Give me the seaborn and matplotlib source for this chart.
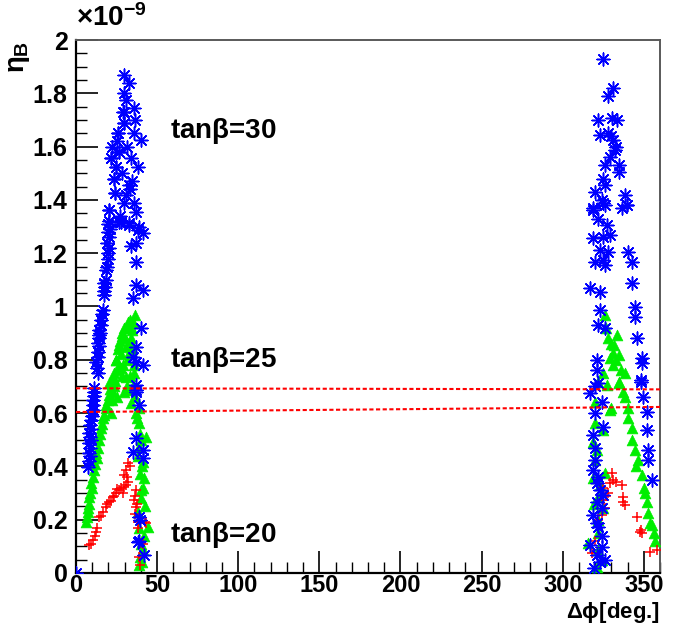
"""
eta_B vs delta phi para tan(beta) = 20, 25, 30.
"""

import matplotlib
matplotlib.use("Agg")
import matplotlib.pyplot as plt
import seaborn as sns
import pandas as pd

# tan(beta)=30 (azul), eta_B em unidades de 1e-9
phi_30 = [0, 7.4, 8, 8.6, 8, 8.6, 8, 9.2, 8.6, 8, 9.2, 8.6, 9.2, 9.8, 10.5, 10.5, 10.5, 11, 11, 11.1,
          12.3, 13.6, 12.9, 13.6, 13.6, 14.2, 13.6, 14.2, 14.2, 14.8, 14.2, 15.4, 15.4, 16, 16.6,
          17.3, 17.3, 17.9, 17.3, 18.5, 18.5, 19.1, 19.7, 19.7, 20.3, 19.1, 20.3, 19.7, 20.9, 19.7,
          20.3, 20.3, 21.6, 23.4, 24, 24.7, 25.9, 26.5, 27.7, 29.6, 29.6, 30.8, 32.7, 29, 29.6, 35.8,
          29.6, 36.4, 29.6, 25.9, 35.8, 40, 26.5, 21.6, 33.9, 24.7, 38.2, 23.4, 32.7, 24, 30.8, 29.6,
          35.8, 37, 20.3, 26.5, 32.7, 38.8, 27.7, 32.7, 38.2, 41.3, 37, 33.9, 37, 37, 41.3, 35.1,
          40, 37, 35.1, 37, 41.3, 37, 37, 37, 38.8, 37, 35.1, 41.3, 41.3, 38.8, 39.4, 38.2, 38.8, 41.9,
          22.2, 25.3, 28.4, 31.4, 34.5, 27.1, 33.3,
          325, 331, 328, 322, 330.5, 333.5, 323, 328, 331, 332, 326, 335, 335, 325, 326, 320, 324,
          338.5, 318.7, 326, 339.7, 318.7, 325, 336.6, 339.7, 322, 327.4, 318.7, 325, 329, 323, 328,
          320, 325, 326, 340, 343, 342.7, 317, 323, 344.6, 344.6, 323, 322, 326, 346, 321, 321, 349,
          349, 348, 322, 317, 324, 348, 349.6, 352, 320, 325, 318.7, 352, 352.6, 352.6, 320, 320,
          318.7, 355, 321, 323, 325, 321, 324, 318.7, 321, 322, 317, 324, 321, 323, 330, 333, 329,
          320, 322, 324, 326, 319]
eta_30 = [0, 0.398, 0.42, 0.44, 0.45, 0.47, 0.488, 0.50, 0.51, 0.525, 0.54, 0.555, 0.574, 0.59, 0.61,
          0.63, 0.649, 0.665, 0.68, 0.694,
          0.79, 0.75, 0.77, 0.81, 0.829, 0.85, 0.863, 0.88, 0.893, 0.90, 0.912, 0.93, 0.949, 0.97,
          0.987, 1.043, 1.06, 1.075, 1.088, 1.10, 1.137, 1.15, 1.18, 1.20, 1.22, 1.24, 1.26, 1.28,
          1.29, 1.31, 1.32, 1.362, 1.557, 1.48, 1.426, 1.524, 1.65, 1.58, 1.317, 1.87, 1.80, 1.775,
          1.84, 1.73, 1.69, 1.745, 1.73, 1.70, 1.69, 1.65, 1.65, 1.625, 1.58, 1.557, 1.557, 1.524,
          1.524, 1.48, 1.456, 1.426, 1.418, 1.388, 1.388, 1.355, 1.362, 1.317, 1.313, 1.30, 1.317,
          1.306, 1.287, 1.275, 1.238, 1.227, 1.167, 1.08, 1.062, 1.032, 0.919, 0.848, 0.81, 0.79,
          0.78, 0.705, 0.687, 0.68, 0.63, 0.506, 0.454, 0.46, 0.43, 0.21, 0.20, 0.116, 0.12, 0.068,
          1.60, 1.62, 1.50, 1.60, 1.47, 1.34, 1.44,
          1.93, 1.82, 1.79, 1.70, 1.707, 1.70, 1.643, 1.65, 1.625, 1.587, 1.53, 1.53, 1.505, 1.48,
          1.456, 1.43, 1.40, 1.418, 1.37, 1.38, 1.38, 1.362, 1.388, 1.37, 1.38, 1.33, 1.306, 1.257,
          1.26, 1.268, 1.212, 1.205, 1.167, 1.174, 1.156, 1.205, 1.167, 1.088, 1.069, 1.054, 0.998,
          0.96, 0.987, 0.93, 0.919, 0.882, 0.80, 0.762, 0.807, 0.788, 0.724, 0.713, 0.675, 0.642,
          0.717, 0.66, 0.604, 0.60, 0.548, 0.518, 0.537, 0.461, 0.424, 0.469, 0.424, 0.386, 0.349,
          0.338, 0.311, 0.293, 0.266, 0.244, 0.218, 0.188, 0.173, 0.105, 0.098, 0.068, 0.041, 1.64,
          1.60, 1.56, 0.70, 0.36, 0.14, 0.05, 0.02]

# tan(beta)=25 (verde)
phi_25 = [6.2, 6.8, 7.4, 7.4, 8, 8, 8.6, 9.2, 9.8, 10.5, 11, 11.7, 12.3, 12.9, 13.6, 14.2, 14.8, 15.4,
          16, 16.6, 17.3, 18.5, 19.7, 20.3, 20.3, 21, 22.2, 22.8, 23.4, 24.7, 24.7, 25.9, 26.5, 27.1,
          27.7, 28.4, 29, 29.6, 30.8, 32.1, 32.7, 33.3, 33.9, 36.4, 18.5, 21.6, 22.8, 24, 25.9, 27.7,
          29, 31.4, 32.7, 33.9, 34.5, 35.1, 34.5, 35.8, 33.3, 31.4, 28.4, 30.2, 28.4, 31.4, 26.5, 23.4,
          25.3, 22.2, 30.8, 32.7, 35.8, 29.6, 33.9, 37, 38.8, 43, 38.8, 41.3, 42, 40, 38.2, 44.4, 41.3,
          38.8, 35.1, 36.4, 38.8, 37.6, 39.4, 40, 38.2, 40.6, 39.4, 41.3, 40, 42.5, 38.8, 41.9, 40,
          39.4, 40.6,
          326, 333.5, 328, 331.5, 331, 335, 329, 331, 338.5, 325, 335, 322, 335, 338.5, 340, 342.7,
          342.7, 344.6, 346.5, 349, 352, 352.6, 354, 327.4, 329, 320, 325, 318.7, 321, 320, 326,
          318.7, 322, 325, 322, 322, 315.7, 322, 321, 333, 336, 330, 337, 340, 345, 350, 351, 355,
          356, 357, 323, 324, 320, 327, 330, 319]
eta_25 = [0.191, 0.21, 0.23, 0.244, 0.26, 0.285, 0.30, 0.338, 0.32, 0.36, 0.386, 0.41, 0.45, 0.43,
          0.47, 0.50, 0.52, 0.544, 0.56, 0.58, 0.593, 0.63, 0.649, 0.668, 0.713, 0.69, 0.71, 0.736,
          0.75, 0.80, 0.80, 0.84, 0.855, 0.87, 0.769, 0.89, 0.886, 0.92, 0.848, 0.94, 0.825, 0.95, 0.923,
          0.968, 0.62, 0.60, 0.68, 0.72, 0.76, 0.82, 0.78, 0.80, 0.86, 0.88, 0.91, 0.94, 0.84, 0.78,
          0.74, 0.70, 0.74, 0.88, 0.90, 0.92, 0.78, 0.70, 0.66, 0.65, 0.736, 0.687, 0.75, 0.68, 0.638,
          0.60, 0.563, 0.51, 0.473, 0.417, 0.356, 0.28, 0.229, 0.173, 0.086, 0.03, 0.70, 0.66, 0.62,
          0.58, 0.52, 0.50, 0.44, 0.40, 0.37, 0.32, 0.31, 0.25, 0.17, 0.14, 0.11, 0.06, 0.04,
          0.968, 0.893, 0.882, 0.855, 0.825, 0.818, 0.807, 0.78, 0.75, 0.75, 0.717, 0.717, 0.713,
          0.66, 0.619, 0.544, 0.50, 0.461, 0.424, 0.368, 0.266, 0.225, 0.188, 0.705, 0.612, 0.563,
          0.537, 0.49, 0.461, 0.424, 0.375, 0.356, 0.285, 0.244, 0.199, 0.15, 0.113, 0.086, 0.023,
          0.80, 0.76, 0.86, 0.68, 0.58, 0.40, 0.32, 0.30, 0.18, 0.15, 0.12, 0.33, 0.05, 0.64, 0.92,
          0.62, 0.26]

# tan(beta)=20 (vermelho)
phi_20 = [8, 9.2, 10.5, 11.7, 12.3, 13, 14.2, 15.4, 16.6, 18.5, 19.1, 20.3, 21.6, 22.8, 23.4, 24.7,
          25.3, 26.5, 27.7, 29, 29.6, 30.8, 31.4, 32, 29.6, 30.8, 32, 33.3, 37, 35.8, 36.4, 37, 37.6,
          36.4, 38.2, 38.2, 43, 42.5, 40, 41.3, 38.8, 39.4,
          330.5, 331, 329, 336.6, 325, 328, 337.2, 337.2, 338.5, 325, 326, 324, 346, 348, 349, 322,
          318, 354, 358, 333, 320, 327, 347.5]
eta_20 = [0.105, 0.11, 0.124, 0.14, 0.154, 0.17, 0.21, 0.215, 0.23, 0.248, 0.26, 0.266, 0.27, 0.285,
          0.29, 0.30, 0.315, 0.311, 0.32, 0.30, 0.323, 0.33, 0.36, 0.34, 0.368, 0.385, 0.413, 0.40,
          0.311, 0.274, 0.29, 0.248, 0.26, 0.22, 0.191, 0.17, 0.188, 0.19, 0.113, 0.11, 0.06, 0.03,
          0.375, 0.349, 0.338, 0.33, 0.319, 0.30, 0.285, 0.266, 0.255, 0.274, 0.244, 0.218, 0.21,
          0.161, 0.15, 0.199, 0.075, 0.079, 0.086, 0.34, 0.12, 0.29, 0.155]

# linhas tracejadas (limites observados)
linha_x = [0, 360]
linha_sup = [0.693, 0.689]
linha_inf = [0.604, 0.623]

rotulos = ["tan$\\beta$=30", "tan$\\beta$=25", "tan$\\beta$=20"]
rotulos_y = [1.66, 0.80, 0.143]

sns.set_style("ticks")
plt.rcParams["font.family"] = ["Liberation Sans", "DejaVu Sans"]
plt.rcParams["font.weight"] = "bold"
plt.rcParams["text.color"] = "black"
plt.rcParams["xtick.color"] = "black"
plt.rcParams["ytick.color"] = "black"
plt.rcParams["mathtext.fontset"] = "custom"
plt.rcParams["mathtext.rm"] = "Liberation Sans"
plt.rcParams["mathtext.it"] = "Liberation Sans"

fig = plt.figure(figsize=(6.78, 6.26), dpi=100)
ax = fig.add_axes([0.1121, 0.0847, 0.8614, 0.8514])

df25 = pd.DataFrame({"phi": phi_25, "eta": eta_25})
df20 = pd.DataFrame({"phi": phi_20, "eta": eta_20})
df30 = pd.DataFrame({"phi": phi_30, "eta": eta_30})

sns.scatterplot(data=df25, x="phi", y="eta", marker="^", color="#00ee00", s=60,
                edgecolor="#00ee00", linewidth=0.5, ax=ax, zorder=3)
sns.scatterplot(data=df20, x="phi", y="eta", marker="+", color="#ff0000", s=60,
                linewidth=1.1, ax=ax, zorder=4)
sns.scatterplot(data=df30, x="phi", y="eta", marker=(8, 2, 0), color="#0000ff", s=85,
                linewidth=1.1, ax=ax, zorder=5)

ax.plot(linha_x, linha_sup, color="#ff0000", lw=1.5, linestyle=(0, (2, 1.2)), zorder=6)
ax.plot(linha_x, linha_inf, color="#ff0000", lw=1.5, linestyle=(0, (2, 1.2)), zorder=6)

for txt, yy in zip(rotulos, rotulos_y):
    ax.text(58, yy, txt, fontsize=20, fontweight="bold", va="center", ha="left")

ax.set_xlim(0, 360)
ax.set_ylim(0, 2)
ax.set_xticks(range(0, 351, 50))
ax.set_xticklabels([str(v) for v in range(0, 351, 50)])
ax.set_xticks(range(0, 361, 10), minor=True)
yt = [0, 0.2, 0.4, 0.6, 0.8, 1, 1.2, 1.4, 1.6, 1.8, 2]
ax.set_yticks(yt)
ax.set_yticklabels(["0", "0.2", "0.4", "0.6", "0.8", "1", "1.2", "1.4", "1.6", "1.8", "2"])
ax.set_yticks([i * 0.05 for i in range(41)], minor=True)
ax.tick_params(axis="both", which="major", direction="in", length=16, width=1.2,
               labelsize=18)
ax.tick_params(axis="y", which="major", pad=6)
ax.tick_params(axis="x", which="major", pad=1, labelsize=17)
ax.tick_params(axis="both", which="minor", direction="in", length=8, width=1.0)
ax.set_xlabel("")
ax.set_ylabel("")
for lado in ["left", "bottom"]:
    ax.spines[lado].set_linewidth(1.6)
    ax.spines[lado].set_color("black")
for lado in ["top", "right"]:
    ax.spines[lado].set_linewidth(1.4)
    ax.spines[lado].set_color("0.35")

fig.text(0.028, 0.935, "$\\eta_{B}$", fontsize=20, rotation=90, ha="center", va="top")
fig.text(0.112, 0.958, "$\\times$10$^{-9}$", fontsize=20, ha="left", va="baseline")
fig.text(0.973, 0.002, "$\\Delta\\phi$[deg.]", fontsize=16, ha="right", va="bottom")

fig.savefig("out.png", dpi=100)
